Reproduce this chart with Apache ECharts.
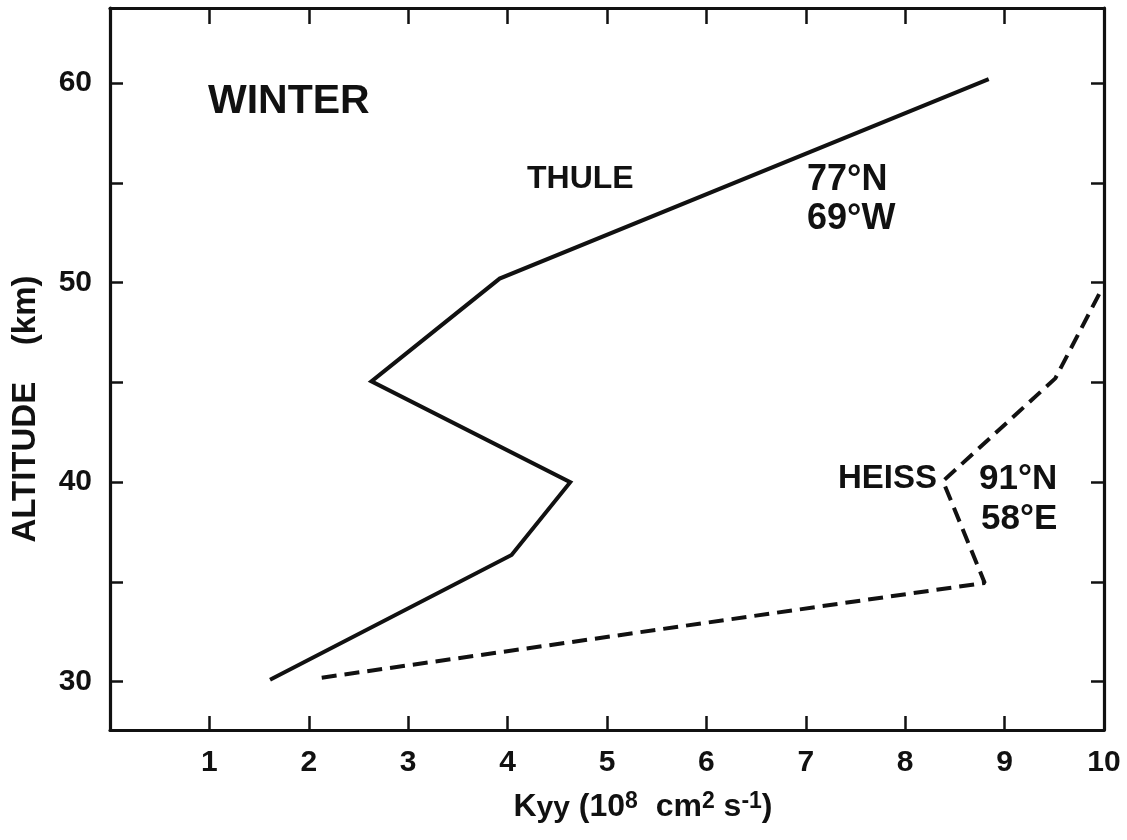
<!DOCTYPE html>
<html>
<head>
<meta charset="utf-8">
<script src="https://cdn.jsdelivr.net/npm/echarts@6/dist/echarts.min.js"></script>
<style>
html,body{margin:0;padding:0;background:#fff;}
#c{width:1127px;height:840px;}
</style>
</head>
<body>
<div id="c"></div>
<script>
// ---- data ----
const thuleK   = [1.61, 4.04, 4.63, 2.63, 3.92, 8.84];
const thuleAlt = [30.1, 36.35, 40.0, 45.05, 50.2, 60.2];
const heissK   = [2.13, 8.80, 8.38, 9.51, 9.98];
const heissAlt = [30.2, 34.95, 40.05, 45.2, 49.7];
const xTickValues  = [1, 2, 3, 4, 5, 6, 7, 8, 9];
const xLabelValues = [1, 2, 3, 4, 5, 6, 7, 8, 9, 10];
const yTickValues  = [30, 35, 40, 45, 50, 55, 60];
const yLabelValues = [30, 40, 50, 60];

const FONT = "'Liberation Sans', Arial, sans-serif";
const W = 'bold ';
const INK = '#111';

const chart = echarts.init(document.getElementById('c'), null, {renderer: 'canvas'});

const pairs = (xs, ys) => xs.map((x, i) => [x, ys[i]]);

const axisLine = {show: true, onZero: false, lineStyle: {color: INK, width: 3.2}};
const tick = (vals, len) => ({show: true, inside: true, length: len, customValues: vals, lineStyle: {color: INK, width: 2.5}});

const option = {
  animation: false,
  backgroundColor: '#fff',
  grid: {left: 110, right: 23, top: 8, bottom: 110, containLabel: false},
  xAxis: [
    {
      type: 'value', position: 'bottom', min: 0, max: 10,
      axisLine: axisLine, axisTick: tick(xTickValues, 14), splitLine: {show: false},
      axisLabel: {show: true, customValues: xLabelValues, margin: 18, color: INK, fontSize: 30, fontWeight: 'bold', fontFamily: FONT}
    },
    {
      type: 'value', position: 'top', min: 0, max: 10,
      axisLine: axisLine, axisTick: tick(xTickValues, 16), splitLine: {show: false},
      axisLabel: {show: false}
    }
  ],
  yAxis: [
    {
      type: 'value', position: 'left', min: 27.58, max: 63.76,
      axisLine: axisLine, axisTick: tick(yTickValues, 13), splitLine: {show: false},
      axisLabel: {show: true, customValues: yLabelValues, margin: 18, color: INK, fontSize: 30, fontWeight: 'bold', fontFamily: FONT}
    },
    {
      type: 'value', position: 'right', min: 27.58, max: 63.76,
      axisLine: axisLine, axisTick: tick(yTickValues, 13), splitLine: {show: false},
      axisLabel: {show: false}
    }
  ],
  series: [
    {
      name: 'THULE', type: 'line', xAxisIndex: 0, yAxisIndex: 0,
      data: pairs(thuleK, thuleAlt), showSymbol: false, symbol: 'none',
      lineStyle: {color: INK, width: 4, join: 'miter'}
    },
    {
      name: 'HEISS', type: 'line', xAxisIndex: 0, yAxisIndex: 0,
      data: pairs(heissK, heissAlt), showSymbol: false, symbol: 'none',
      lineStyle: {color: INK, width: 4, type: [15, 8]}
    }
  ],
  graphic: [
    {type: 'text', x: 208, y: 102, style: {text: 'WINTER', fill: INK, font: W + '41px ' + FONT, textAlign: 'left', textVerticalAlign: 'middle'}},
    {type: 'text', x: 527, y: 179, style: {text: 'THULE', fill: INK, font: W + '32px ' + FONT, textAlign: 'left', textVerticalAlign: 'middle'}},
    {type: 'text', x: 807, y: 180, style: {text: '77°N', fill: INK, font: W + '36px ' + FONT, textAlign: 'left', textVerticalAlign: 'middle'}},
    {type: 'text', x: 807, y: 219, style: {text: '69°W', fill: INK, font: W + '36px ' + FONT, textAlign: 'left', textVerticalAlign: 'middle'}},
    {type: 'text', x: 937, y: 479, style: {text: 'HEISS', fill: INK, font: W + '33px ' + FONT, textAlign: 'right', textVerticalAlign: 'middle'}},
    {type: 'text', x: 979, y: 479, style: {text: '91°N', fill: INK, font: W + '35px ' + FONT, textAlign: 'left', textVerticalAlign: 'middle'}},
    {type: 'text', x: 981, y: 519, style: {text: '58°E', fill: INK, font: W + '35px ' + FONT, textAlign: 'left', textVerticalAlign: 'middle'}},
    {type: 'text', x: 26, y: 409, rotation: Math.PI / 2, style: {text: 'ALTITUDE    (km)', fill: INK, font: W + '33px ' + FONT, textAlign: 'center', textVerticalAlign: 'middle'}},
    {
      type: 'text', x: 643, y: 807,
      style: {
        text: '{t|K}{sub|yy}{t| (10}{sup|8}{t|  cm}{sup|2}{t| s}{sup|-1}{t|)}',
        fill: INK, font: W + '32px ' + FONT, textAlign: 'center', textVerticalAlign: 'middle',
        rich: {
          t: {fontSize: 32, fontWeight: 'bold', fontFamily: FONT, fill: INK, lineHeight: 33, verticalAlign: 'middle'},
          sub: {fontSize: 30, fontWeight: 'bold', fontFamily: FONT, fill: INK, lineHeight: 33, padding: [18, 0, 0, 0], verticalAlign: 'bottom'},
          sup: {fontSize: 23, fontWeight: 'bold', fontFamily: FONT, fill: INK, lineHeight: 18, verticalAlign: 'top'}
        }
      }
    }
  ]
};
chart.setOption(option);
</script>
</body>
</html>
